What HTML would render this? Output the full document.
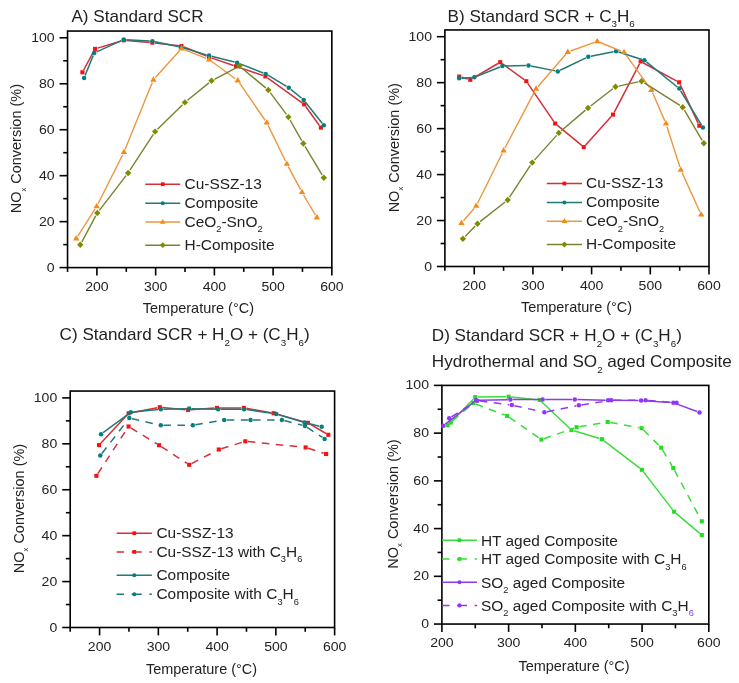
<!DOCTYPE html>
<html><head><meta charset="utf-8"><style>
html,body{margin:0;padding:0;background:#fff;}
svg{display:block;filter:blur(0.4px);}
text{font-family:"Liberation Sans", sans-serif;fill:#222;}
</style></head><body>
<svg width="739" height="683" viewBox="0 0 739 683">
<rect width="739" height="683" fill="#fff"/>
<rect x="67.55" y="31.05" width="264.30" height="236.55" fill="none" stroke="#000" stroke-width="1.6"/>
<line x1="59.55" y1="267.60" x2="67.55" y2="267.60" stroke="#000" stroke-width="1.6"/>
<line x1="59.55" y1="221.64" x2="67.55" y2="221.64" stroke="#000" stroke-width="1.6"/>
<line x1="59.55" y1="175.68" x2="67.55" y2="175.68" stroke="#000" stroke-width="1.6"/>
<line x1="59.55" y1="129.72" x2="67.55" y2="129.72" stroke="#000" stroke-width="1.6"/>
<line x1="59.55" y1="83.76" x2="67.55" y2="83.76" stroke="#000" stroke-width="1.6"/>
<line x1="59.55" y1="37.80" x2="67.55" y2="37.80" stroke="#000" stroke-width="1.6"/>
<line x1="63.25" y1="244.62" x2="67.55" y2="244.62" stroke="#000" stroke-width="1.6"/>
<line x1="63.25" y1="198.66" x2="67.55" y2="198.66" stroke="#000" stroke-width="1.6"/>
<line x1="63.25" y1="152.70" x2="67.55" y2="152.70" stroke="#000" stroke-width="1.6"/>
<line x1="63.25" y1="106.74" x2="67.55" y2="106.74" stroke="#000" stroke-width="1.6"/>
<line x1="63.25" y1="60.78" x2="67.55" y2="60.78" stroke="#000" stroke-width="1.6"/>
<line x1="96.91" y1="267.60" x2="96.91" y2="275.50" stroke="#000" stroke-width="1.6"/>
<line x1="155.65" y1="267.60" x2="155.65" y2="275.50" stroke="#000" stroke-width="1.6"/>
<line x1="214.38" y1="267.60" x2="214.38" y2="275.50" stroke="#000" stroke-width="1.6"/>
<line x1="273.11" y1="267.60" x2="273.11" y2="275.50" stroke="#000" stroke-width="1.6"/>
<line x1="331.84" y1="267.60" x2="331.84" y2="275.50" stroke="#000" stroke-width="1.6"/>
<line x1="67.55" y1="267.60" x2="67.55" y2="271.90" stroke="#000" stroke-width="1.6"/>
<line x1="126.28" y1="267.60" x2="126.28" y2="271.90" stroke="#000" stroke-width="1.6"/>
<line x1="185.01" y1="267.60" x2="185.01" y2="271.90" stroke="#000" stroke-width="1.6"/>
<line x1="243.74" y1="267.60" x2="243.74" y2="271.90" stroke="#000" stroke-width="1.6"/>
<line x1="302.47" y1="267.60" x2="302.47" y2="271.90" stroke="#000" stroke-width="1.6"/>
<text x="0" y="0" transform="translate(54.60,271.60) scale(1.05,1)" font-size="13.4" text-anchor="end" >0</text>
<text x="0" y="0" transform="translate(54.60,225.64) scale(1.05,1)" font-size="13.4" text-anchor="end" >20</text>
<text x="0" y="0" transform="translate(54.60,179.68) scale(1.05,1)" font-size="13.4" text-anchor="end" >40</text>
<text x="0" y="0" transform="translate(54.60,133.72) scale(1.05,1)" font-size="13.4" text-anchor="end" >60</text>
<text x="0" y="0" transform="translate(54.60,87.76) scale(1.05,1)" font-size="13.4" text-anchor="end" >80</text>
<text x="0" y="0" transform="translate(54.60,41.80) scale(1.05,1)" font-size="13.4" text-anchor="end" >100</text>
<text x="0" y="0" transform="translate(96.91,290.50) scale(1.05,1)" font-size="13.4" text-anchor="middle" >200</text>
<text x="0" y="0" transform="translate(155.65,290.50) scale(1.05,1)" font-size="13.4" text-anchor="middle" >300</text>
<text x="0" y="0" transform="translate(214.38,290.50) scale(1.05,1)" font-size="13.4" text-anchor="middle" >400</text>
<text x="0" y="0" transform="translate(273.11,290.50) scale(1.05,1)" font-size="13.4" text-anchor="middle" >500</text>
<text x="0" y="0" transform="translate(331.84,290.50) scale(1.05,1)" font-size="13.4" text-anchor="middle" >600</text>
<text x="0" y="0" transform="translate(198.40,313.40) scale(1.035,1)" font-size="14" text-anchor="middle" >Temperature (°C)</text>
<text transform="translate(21.3,148.65) rotate(-90) scale(1.035,1)" font-size="14" text-anchor="middle">NO<tspan font-size="0.52em" dy="4.2">x</tspan><tspan dy="-4.2"> Conversion (%)</tspan></text>
<text x="0" y="0" transform="translate(71.40,22.20) scale(1.07,1)" font-size="16" text-anchor="start" >A) Standard SCR</text>
<path d="M83.64,70.01L93.86,51.19M97.59,48.15L121.31,41.05M126.39,40.52L149.81,42.48M154.98,43.00L178.92,45.80M183.92,47.06L206.58,56.04M211.46,57.85L233.54,65.45M238.46,67.14L262.94,75.56M267.51,77.92L302.09,102.88M305.72,106.51L319.38,125.49" fill="none" stroke="#D3303A" stroke-width="1.5"/>
<rect x="80.35" y="70.25" width="4.10" height="4.10" fill="#F81010"/>
<rect x="93.05" y="46.85" width="4.10" height="4.10" fill="#F81010"/>
<rect x="121.75" y="38.25" width="4.10" height="4.10" fill="#F81010"/>
<rect x="150.35" y="40.65" width="4.10" height="4.10" fill="#F81010"/>
<rect x="179.45" y="44.05" width="4.10" height="4.10" fill="#F81010"/>
<rect x="206.95" y="54.95" width="4.10" height="4.10" fill="#F81010"/>
<rect x="233.95" y="64.25" width="4.10" height="4.10" fill="#F81010"/>
<rect x="263.35" y="74.35" width="4.10" height="4.10" fill="#F81010"/>
<rect x="302.15" y="102.35" width="4.10" height="4.10" fill="#F81010"/>
<rect x="318.85" y="125.55" width="4.10" height="4.10" fill="#F81010"/>
<path d="M85.08,75.49L93.22,55.41M96.57,51.93L121.43,40.67M126.40,39.75L149.80,41.05M154.94,41.73L177.96,46.57M182.99,47.84L206.51,54.86M211.52,56.24L234.58,62.06M239.52,63.65L263.28,72.95M267.93,75.23L286.57,86.37M290.81,89.35L301.69,98.25M305.32,101.94L322.18,123.16" fill="none" stroke="#237878" stroke-width="1.5"/>
<circle cx="84.10" cy="77.90" r="2.25" fill="#008080"/>
<circle cx="94.20" cy="53.00" r="2.25" fill="#008080"/>
<circle cx="123.80" cy="39.60" r="2.25" fill="#008080"/>
<circle cx="152.40" cy="41.20" r="2.25" fill="#008080"/>
<circle cx="180.50" cy="47.10" r="2.25" fill="#008080"/>
<circle cx="209.00" cy="55.60" r="2.25" fill="#008080"/>
<circle cx="237.10" cy="62.70" r="2.25" fill="#008080"/>
<circle cx="265.70" cy="73.90" r="2.25" fill="#008080"/>
<circle cx="288.80" cy="87.70" r="2.25" fill="#008080"/>
<circle cx="303.70" cy="99.90" r="2.25" fill="#008080"/>
<circle cx="323.80" cy="125.20" r="2.25" fill="#008080"/>
<path d="M77.81,236.07L95.09,208.93M98.05,203.72L122.65,154.78M125.13,149.32L152.27,82.58M155.41,77.57L179.49,50.83M184.29,49.71L206.21,58.39M211.42,61.27L235.38,78.73M239.50,82.97L265.10,120.23M268.12,125.40L285.58,161.20M288.31,166.55L300.59,189.55M303.52,194.79L315.38,215.01" fill="none" stroke="#EE9640" stroke-width="1.4"/>
<polygon points="76.20,235.10 79.40,240.50 73.00,240.50" fill="#F58A14"/>
<polygon points="96.70,202.90 99.90,208.30 93.50,208.30" fill="#F58A14"/>
<polygon points="124.00,148.60 127.20,154.00 120.80,154.00" fill="#F58A14"/>
<polygon points="153.40,76.30 156.60,81.70 150.20,81.70" fill="#F58A14"/>
<polygon points="181.50,45.10 184.70,50.50 178.30,50.50" fill="#F58A14"/>
<polygon points="209.00,56.00 212.20,61.40 205.80,61.40" fill="#F58A14"/>
<polygon points="237.80,77.00 241.00,82.40 234.60,82.40" fill="#F58A14"/>
<polygon points="266.80,119.20 270.00,124.60 263.60,124.60" fill="#F58A14"/>
<polygon points="286.90,160.40 290.10,165.80 283.70,165.80" fill="#F58A14"/>
<polygon points="302.00,188.70 305.20,194.10 298.80,194.10" fill="#F58A14"/>
<polygon points="316.90,214.10 320.10,219.50 313.70,219.50" fill="#F58A14"/>
<path d="M81.86,241.89L95.74,215.91M99.31,210.39L126.09,175.61M129.90,170.24L153.30,134.36M157.46,129.29L182.54,104.71M187.46,100.32L208.94,82.88M214.42,79.26L236.48,67.64M241.94,68.20L265.76,87.90M270.27,92.65L286.43,114.45M290.02,119.97L301.68,140.63M304.99,146.33L322.11,174.97" fill="none" stroke="#7A8230" stroke-width="1.4"/>
<polygon points="80.30,241.60 83.50,244.80 80.30,248.00 77.10,244.80" fill="#808C00"/>
<polygon points="97.30,209.80 100.50,213.00 97.30,216.20 94.10,213.00" fill="#808C00"/>
<polygon points="128.10,169.80 131.30,173.00 128.10,176.20 124.90,173.00" fill="#808C00"/>
<polygon points="155.10,128.40 158.30,131.60 155.10,134.80 151.90,131.60" fill="#808C00"/>
<polygon points="184.90,99.20 188.10,102.40 184.90,105.60 181.70,102.40" fill="#808C00"/>
<polygon points="211.50,77.60 214.70,80.80 211.50,84.00 208.30,80.80" fill="#808C00"/>
<polygon points="239.40,62.90 242.60,66.10 239.40,69.30 236.20,66.10" fill="#808C00"/>
<polygon points="268.30,86.80 271.50,90.00 268.30,93.20 265.10,90.00" fill="#808C00"/>
<polygon points="288.40,113.90 291.60,117.10 288.40,120.30 285.20,117.10" fill="#808C00"/>
<polygon points="303.30,140.30 306.50,143.50 303.30,146.70 300.10,143.50" fill="#808C00"/>
<polygon points="323.80,174.60 327.00,177.80 323.80,181.00 320.60,177.80" fill="#808C00"/>
<line x1="145.30" y1="184.20" x2="180.20" y2="184.20" stroke="#D3303A" stroke-width="1.5"/>
<rect x="160.88" y="182.33" width="3.74" height="3.74" fill="#F81010"/>
<text x="0" y="0" transform="translate(184.50,189.10) scale(1.03,1)" font-size="15" text-anchor="start" >Cu-SSZ-13</text>
<line x1="145.30" y1="203.20" x2="180.20" y2="203.20" stroke="#237878" stroke-width="1.5"/>
<circle cx="162.75" cy="203.20" r="2.05" fill="#008080"/>
<text x="0" y="0" transform="translate(184.50,208.10) scale(1.03,1)" font-size="15" text-anchor="start" >Composite</text>
<line x1="145.30" y1="222.10" x2="180.20" y2="222.10" stroke="#EE9640" stroke-width="1.5"/>
<polygon points="162.75,218.90 165.67,223.83 159.83,223.83" fill="#F58A14"/>
<text x="0" y="0" transform="translate(184.50,227.00) scale(1.03,1)" font-size="15" text-anchor="start" >CeO<tspan font-size="0.6em" dy="5.4">2</tspan><tspan dy="-5.4">​</tspan>-SnO<tspan font-size="0.6em" dy="5.4">2</tspan><tspan dy="-5.4">​</tspan></text>
<line x1="145.30" y1="245.20" x2="180.20" y2="245.20" stroke="#7A8230" stroke-width="1.5"/>
<polygon points="162.75,242.28 165.67,245.20 162.75,248.12 159.83,245.20" fill="#808C00"/>
<text x="0" y="0" transform="translate(184.50,250.10) scale(1.03,1)" font-size="15" text-anchor="start" >H-Composite</text>
<rect x="444.90" y="29.95" width="264.10" height="236.55" fill="none" stroke="#000" stroke-width="1.6"/>
<line x1="436.90" y1="266.50" x2="444.90" y2="266.50" stroke="#000" stroke-width="1.6"/>
<line x1="436.90" y1="220.54" x2="444.90" y2="220.54" stroke="#000" stroke-width="1.6"/>
<line x1="436.90" y1="174.58" x2="444.90" y2="174.58" stroke="#000" stroke-width="1.6"/>
<line x1="436.90" y1="128.62" x2="444.90" y2="128.62" stroke="#000" stroke-width="1.6"/>
<line x1="436.90" y1="82.66" x2="444.90" y2="82.66" stroke="#000" stroke-width="1.6"/>
<line x1="436.90" y1="36.70" x2="444.90" y2="36.70" stroke="#000" stroke-width="1.6"/>
<line x1="440.60" y1="243.52" x2="444.90" y2="243.52" stroke="#000" stroke-width="1.6"/>
<line x1="440.60" y1="197.56" x2="444.90" y2="197.56" stroke="#000" stroke-width="1.6"/>
<line x1="440.60" y1="151.60" x2="444.90" y2="151.60" stroke="#000" stroke-width="1.6"/>
<line x1="440.60" y1="105.64" x2="444.90" y2="105.64" stroke="#000" stroke-width="1.6"/>
<line x1="440.60" y1="59.68" x2="444.90" y2="59.68" stroke="#000" stroke-width="1.6"/>
<line x1="474.25" y1="266.50" x2="474.25" y2="274.40" stroke="#000" stroke-width="1.6"/>
<line x1="532.93" y1="266.50" x2="532.93" y2="274.40" stroke="#000" stroke-width="1.6"/>
<line x1="591.62" y1="266.50" x2="591.62" y2="274.40" stroke="#000" stroke-width="1.6"/>
<line x1="650.31" y1="266.50" x2="650.31" y2="274.40" stroke="#000" stroke-width="1.6"/>
<line x1="709.00" y1="266.50" x2="709.00" y2="274.40" stroke="#000" stroke-width="1.6"/>
<line x1="444.90" y1="266.50" x2="444.90" y2="270.80" stroke="#000" stroke-width="1.6"/>
<line x1="503.59" y1="266.50" x2="503.59" y2="270.80" stroke="#000" stroke-width="1.6"/>
<line x1="562.28" y1="266.50" x2="562.28" y2="270.80" stroke="#000" stroke-width="1.6"/>
<line x1="620.97" y1="266.50" x2="620.97" y2="270.80" stroke="#000" stroke-width="1.6"/>
<line x1="679.66" y1="266.50" x2="679.66" y2="270.80" stroke="#000" stroke-width="1.6"/>
<text x="0" y="0" transform="translate(432.00,270.50) scale(1.05,1)" font-size="13.4" text-anchor="end" >0</text>
<text x="0" y="0" transform="translate(432.00,224.54) scale(1.05,1)" font-size="13.4" text-anchor="end" >20</text>
<text x="0" y="0" transform="translate(432.00,178.58) scale(1.05,1)" font-size="13.4" text-anchor="end" >40</text>
<text x="0" y="0" transform="translate(432.00,132.62) scale(1.05,1)" font-size="13.4" text-anchor="end" >60</text>
<text x="0" y="0" transform="translate(432.00,86.66) scale(1.05,1)" font-size="13.4" text-anchor="end" >80</text>
<text x="0" y="0" transform="translate(432.00,40.70) scale(1.05,1)" font-size="13.4" text-anchor="end" >100</text>
<text x="0" y="0" transform="translate(474.25,289.50) scale(1.05,1)" font-size="13.4" text-anchor="middle" >200</text>
<text x="0" y="0" transform="translate(532.93,289.50) scale(1.05,1)" font-size="13.4" text-anchor="middle" >300</text>
<text x="0" y="0" transform="translate(591.62,289.50) scale(1.05,1)" font-size="13.4" text-anchor="middle" >400</text>
<text x="0" y="0" transform="translate(650.31,289.50) scale(1.05,1)" font-size="13.4" text-anchor="middle" >500</text>
<text x="0" y="0" transform="translate(709.00,289.50) scale(1.05,1)" font-size="13.4" text-anchor="middle" >600</text>
<text x="0" y="0" transform="translate(576.50,312.40) scale(1.035,1)" font-size="14" text-anchor="middle" >Temperature (°C)</text>
<text transform="translate(398.8,147.7) rotate(-90) scale(1.035,1)" font-size="14" text-anchor="middle">NO<tspan font-size="0.52em" dy="4.2">x</tspan><tspan dy="-4.2"> Conversion (%)</tspan></text>
<text x="0" y="0" transform="translate(447.60,21.70) scale(1.07,1)" font-size="16" text-anchor="start" >B) Standard SCR + C<tspan font-size="0.57em" dy="5.7">3</tspan><tspan dy="-5.7">​</tspan>H<tspan font-size="0.57em" dy="5.7">6</tspan><tspan dy="-5.7">​</tspan></text>
<path d="M461.70,77.32L467.80,79.08M472.54,78.48L497.96,63.52M502.30,63.73L524.20,79.67M527.77,83.35L553.73,121.35M557.20,125.16L581.70,145.44M585.44,145.17L611.26,116.53M614.20,112.29L639.50,63.81M642.99,62.74L676.81,81.06M680.20,84.66L698.20,123.34" fill="none" stroke="#D3303A" stroke-width="1.5"/>
<rect x="457.15" y="74.55" width="4.10" height="4.10" fill="#F81010"/>
<rect x="468.25" y="77.75" width="4.10" height="4.10" fill="#F81010"/>
<rect x="498.15" y="60.15" width="4.10" height="4.10" fill="#F81010"/>
<rect x="524.25" y="79.15" width="4.10" height="4.10" fill="#F81010"/>
<rect x="553.15" y="121.45" width="4.10" height="4.10" fill="#F81010"/>
<rect x="581.65" y="145.05" width="4.10" height="4.10" fill="#F81010"/>
<rect x="610.95" y="112.55" width="4.10" height="4.10" fill="#F81010"/>
<rect x="638.65" y="59.45" width="4.10" height="4.10" fill="#F81010"/>
<rect x="677.05" y="80.25" width="4.10" height="4.10" fill="#F81010"/>
<rect x="697.25" y="123.65" width="4.10" height="4.10" fill="#F81010"/>
<path d="M461.79,78.13L471.71,77.47M476.71,76.33L499.99,66.97M505.00,65.94L525.90,65.46M531.05,65.92L555.25,70.88M560.15,70.28L585.95,57.92M590.85,56.28L613.45,51.72M618.48,51.99L641.92,59.51M646.42,61.94L677.28,86.96M680.65,90.82L701.55,125.18" fill="none" stroke="#237878" stroke-width="1.5"/>
<circle cx="459.20" cy="78.30" r="2.25" fill="#008080"/>
<circle cx="474.30" cy="77.30" r="2.25" fill="#008080"/>
<circle cx="502.40" cy="66.00" r="2.25" fill="#008080"/>
<circle cx="528.50" cy="65.40" r="2.25" fill="#008080"/>
<circle cx="557.80" cy="71.40" r="2.25" fill="#008080"/>
<circle cx="588.30" cy="56.80" r="2.25" fill="#008080"/>
<circle cx="616.00" cy="51.20" r="2.25" fill="#008080"/>
<circle cx="644.40" cy="60.30" r="2.25" fill="#008080"/>
<circle cx="679.30" cy="88.60" r="2.25" fill="#008080"/>
<circle cx="702.90" cy="127.40" r="2.25" fill="#008080"/>
<path d="M463.46,220.73L474.24,208.17M477.53,203.21L502.27,153.19M505.00,147.85L534.70,91.45M538.06,86.53L565.84,54.27M570.62,50.99L594.48,42.41M600.08,42.52L621.22,51.08M625.76,54.63L649.64,87.57M652.60,92.75L664.80,120.85M666.91,126.46L679.89,167.04M682.04,172.63L699.96,211.97" fill="none" stroke="#EE9640" stroke-width="1.4"/>
<polygon points="461.50,219.50 464.70,224.90 458.30,224.90" fill="#F58A14"/>
<polygon points="476.20,202.40 479.40,207.80 473.00,207.80" fill="#F58A14"/>
<polygon points="503.60,147.00 506.80,152.40 500.40,152.40" fill="#F58A14"/>
<polygon points="536.10,85.30 539.30,90.70 532.90,90.70" fill="#F58A14"/>
<polygon points="567.80,48.50 571.00,53.90 564.60,53.90" fill="#F58A14"/>
<polygon points="597.30,37.90 600.50,43.30 594.10,43.30" fill="#F58A14"/>
<polygon points="624.00,48.70 627.20,54.10 620.80,54.10" fill="#F58A14"/>
<polygon points="651.40,86.50 654.60,91.90 648.20,91.90" fill="#F58A14"/>
<polygon points="666.00,120.10 669.20,125.50 662.80,125.50" fill="#F58A14"/>
<polygon points="680.80,166.40 684.00,171.80 677.60,171.80" fill="#F58A14"/>
<polygon points="701.20,211.20 704.40,216.60 698.00,216.60" fill="#F58A14"/>
<path d="M465.19,236.43L475.21,226.07M480.10,221.66L505.10,202.04M509.51,197.24L530.39,165.36M534.40,160.14L556.60,135.36M561.31,130.76L585.49,110.14M590.61,105.99L612.89,88.81M618.73,86.11L638.27,81.89M644.29,82.96L679.91,105.44M684.37,110.05L702.13,140.45" fill="none" stroke="#7A8230" stroke-width="1.4"/>
<polygon points="462.90,235.60 466.10,238.80 462.90,242.00 459.70,238.80" fill="#808C00"/>
<polygon points="477.50,220.50 480.70,223.70 477.50,226.90 474.30,223.70" fill="#808C00"/>
<polygon points="507.70,196.80 510.90,200.00 507.70,203.20 504.50,200.00" fill="#808C00"/>
<polygon points="532.20,159.40 535.40,162.60 532.20,165.80 529.00,162.60" fill="#808C00"/>
<polygon points="558.80,129.70 562.00,132.90 558.80,136.10 555.60,132.90" fill="#808C00"/>
<polygon points="588.00,104.80 591.20,108.00 588.00,111.20 584.80,108.00" fill="#808C00"/>
<polygon points="615.50,83.60 618.70,86.80 615.50,90.00 612.30,86.80" fill="#808C00"/>
<polygon points="641.50,78.00 644.70,81.20 641.50,84.40 638.30,81.20" fill="#808C00"/>
<polygon points="682.70,104.00 685.90,107.20 682.70,110.40 679.50,107.20" fill="#808C00"/>
<polygon points="703.80,140.10 707.00,143.30 703.80,146.50 700.60,143.30" fill="#808C00"/>
<line x1="546.80" y1="183.50" x2="582.00" y2="183.50" stroke="#D3303A" stroke-width="1.5"/>
<rect x="562.53" y="181.63" width="3.74" height="3.74" fill="#F81010"/>
<text x="0" y="0" transform="translate(586.00,188.40) scale(1.03,1)" font-size="15" text-anchor="start" >Cu-SSZ-13</text>
<line x1="546.80" y1="202.50" x2="582.00" y2="202.50" stroke="#237878" stroke-width="1.5"/>
<circle cx="564.40" cy="202.50" r="2.05" fill="#008080"/>
<text x="0" y="0" transform="translate(586.00,207.40) scale(1.03,1)" font-size="15" text-anchor="start" >Composite</text>
<line x1="546.80" y1="221.30" x2="582.00" y2="221.30" stroke="#EE9640" stroke-width="1.5"/>
<polygon points="564.40,218.10 567.32,223.03 561.48,223.03" fill="#F58A14"/>
<text x="0" y="0" transform="translate(586.00,226.20) scale(1.03,1)" font-size="15" text-anchor="start" >CeO<tspan font-size="0.6em" dy="5.4">2</tspan><tspan dy="-5.4">​</tspan>-SnO<tspan font-size="0.6em" dy="5.4">2</tspan><tspan dy="-5.4">​</tspan></text>
<line x1="546.80" y1="244.50" x2="582.00" y2="244.50" stroke="#7A8230" stroke-width="1.5"/>
<polygon points="564.40,241.58 567.32,244.50 564.40,247.42 561.48,244.50" fill="#808C00"/>
<text x="0" y="0" transform="translate(586.00,249.40) scale(1.03,1)" font-size="15" text-anchor="start" >H-Composite</text>
<rect x="70.20" y="391.05" width="264.40" height="236.45" fill="none" stroke="#000" stroke-width="1.6"/>
<line x1="62.20" y1="627.50" x2="70.20" y2="627.50" stroke="#000" stroke-width="1.6"/>
<line x1="62.20" y1="581.58" x2="70.20" y2="581.58" stroke="#000" stroke-width="1.6"/>
<line x1="62.20" y1="535.66" x2="70.20" y2="535.66" stroke="#000" stroke-width="1.6"/>
<line x1="62.20" y1="489.74" x2="70.20" y2="489.74" stroke="#000" stroke-width="1.6"/>
<line x1="62.20" y1="443.82" x2="70.20" y2="443.82" stroke="#000" stroke-width="1.6"/>
<line x1="62.20" y1="397.90" x2="70.20" y2="397.90" stroke="#000" stroke-width="1.6"/>
<line x1="65.90" y1="604.54" x2="70.20" y2="604.54" stroke="#000" stroke-width="1.6"/>
<line x1="65.90" y1="558.62" x2="70.20" y2="558.62" stroke="#000" stroke-width="1.6"/>
<line x1="65.90" y1="512.70" x2="70.20" y2="512.70" stroke="#000" stroke-width="1.6"/>
<line x1="65.90" y1="466.78" x2="70.20" y2="466.78" stroke="#000" stroke-width="1.6"/>
<line x1="65.90" y1="420.86" x2="70.20" y2="420.86" stroke="#000" stroke-width="1.6"/>
<line x1="99.58" y1="627.50" x2="99.58" y2="635.40" stroke="#000" stroke-width="1.6"/>
<line x1="158.34" y1="627.50" x2="158.34" y2="635.40" stroke="#000" stroke-width="1.6"/>
<line x1="217.10" y1="627.50" x2="217.10" y2="635.40" stroke="#000" stroke-width="1.6"/>
<line x1="275.86" y1="627.50" x2="275.86" y2="635.40" stroke="#000" stroke-width="1.6"/>
<line x1="334.62" y1="627.50" x2="334.62" y2="635.40" stroke="#000" stroke-width="1.6"/>
<line x1="70.20" y1="627.50" x2="70.20" y2="631.80" stroke="#000" stroke-width="1.6"/>
<line x1="128.96" y1="627.50" x2="128.96" y2="631.80" stroke="#000" stroke-width="1.6"/>
<line x1="187.72" y1="627.50" x2="187.72" y2="631.80" stroke="#000" stroke-width="1.6"/>
<line x1="246.48" y1="627.50" x2="246.48" y2="631.80" stroke="#000" stroke-width="1.6"/>
<line x1="305.24" y1="627.50" x2="305.24" y2="631.80" stroke="#000" stroke-width="1.6"/>
<text x="0" y="0" transform="translate(57.20,631.50) scale(1.05,1)" font-size="13.4" text-anchor="end" >0</text>
<text x="0" y="0" transform="translate(57.20,585.58) scale(1.05,1)" font-size="13.4" text-anchor="end" >20</text>
<text x="0" y="0" transform="translate(57.20,539.66) scale(1.05,1)" font-size="13.4" text-anchor="end" >40</text>
<text x="0" y="0" transform="translate(57.20,493.74) scale(1.05,1)" font-size="13.4" text-anchor="end" >60</text>
<text x="0" y="0" transform="translate(57.20,447.82) scale(1.05,1)" font-size="13.4" text-anchor="end" >80</text>
<text x="0" y="0" transform="translate(57.20,401.90) scale(1.05,1)" font-size="13.4" text-anchor="end" >100</text>
<text x="0" y="0" transform="translate(99.58,650.50) scale(1.05,1)" font-size="13.4" text-anchor="middle" >200</text>
<text x="0" y="0" transform="translate(158.34,650.50) scale(1.05,1)" font-size="13.4" text-anchor="middle" >300</text>
<text x="0" y="0" transform="translate(217.10,650.50) scale(1.05,1)" font-size="13.4" text-anchor="middle" >400</text>
<text x="0" y="0" transform="translate(275.86,650.50) scale(1.05,1)" font-size="13.4" text-anchor="middle" >500</text>
<text x="0" y="0" transform="translate(334.62,650.50) scale(1.05,1)" font-size="13.4" text-anchor="middle" >600</text>
<text x="0" y="0" transform="translate(201.50,673.60) scale(1.035,1)" font-size="14" text-anchor="middle" >Temperature (°C)</text>
<text transform="translate(24.1,508.5) rotate(-90) scale(1.035,1)" font-size="14" text-anchor="middle">NO<tspan font-size="0.52em" dy="4.2">x</tspan><tspan dy="-4.2"> Conversion (%)</tspan></text>
<text x="0" y="0" transform="translate(59.60,340.20) scale(1.07,1)" font-size="16" text-anchor="start" >C) Standard SCR + H<tspan font-size="0.57em" dy="5.7">2</tspan><tspan dy="-5.7">​</tspan>O + (C<tspan font-size="0.57em" dy="5.7">3</tspan><tspan dy="-5.7">​</tspan>H<tspan font-size="0.57em" dy="5.7">6</tspan><tspan dy="-5.7">​</tspan>)</text>
<path d="M100.77,443.20L126.83,415.20M131.15,412.80L157.25,407.70M162.39,407.45L185.51,409.65M190.69,409.72L214.31,408.08M219.50,407.90L241.20,407.90M246.36,408.36L271.04,412.74M276.10,413.90L305.30,422.10M310.04,424.11L326.06,433.49" fill="none" stroke="#D3303A" stroke-width="1.5"/>
<rect x="96.95" y="443.05" width="4.10" height="4.10" fill="#F81010"/>
<rect x="126.55" y="411.25" width="4.10" height="4.10" fill="#F81010"/>
<rect x="157.75" y="405.15" width="4.10" height="4.10" fill="#F81010"/>
<rect x="186.05" y="407.85" width="4.10" height="4.10" fill="#F81010"/>
<rect x="214.85" y="405.85" width="4.10" height="4.10" fill="#F81010"/>
<rect x="241.75" y="405.85" width="4.10" height="4.10" fill="#F81010"/>
<rect x="271.55" y="411.15" width="4.10" height="4.10" fill="#F81010"/>
<rect x="305.75" y="420.75" width="4.10" height="4.10" fill="#F81010"/>
<rect x="326.25" y="432.75" width="4.10" height="4.10" fill="#F81010"/>
<path d="M97.82,473.62L127.18,428.68M130.82,427.86L156.88,443.84M161.28,446.62L187.02,463.38M191.51,463.61L216.49,450.69M221.28,448.73L242.82,442.07M247.89,441.56L303.01,447.14M308.07,448.20L323.63,453.20" fill="none" stroke="#D3303A" stroke-width="1.5" stroke-dasharray="7.5 6.5"/>
<rect x="94.35" y="473.75" width="4.10" height="4.10" fill="#F81010"/>
<rect x="126.55" y="424.45" width="4.10" height="4.10" fill="#F81010"/>
<rect x="157.05" y="443.15" width="4.10" height="4.10" fill="#F81010"/>
<rect x="187.15" y="462.75" width="4.10" height="4.10" fill="#F81010"/>
<rect x="216.75" y="447.45" width="4.10" height="4.10" fill="#F81010"/>
<rect x="243.25" y="439.25" width="4.10" height="4.10" fill="#F81010"/>
<rect x="303.55" y="445.35" width="4.10" height="4.10" fill="#F81010"/>
<rect x="324.05" y="451.95" width="4.10" height="4.10" fill="#F81010"/>
<path d="M103.10,432.66L128.70,413.84M133.39,412.03L158.21,409.47M163.40,409.15L186.60,408.65M191.80,408.65L215.50,409.15M220.70,409.20L241.50,409.20M246.67,409.58L273.73,413.62M278.79,414.74L302.01,421.66M307.02,423.04L319.18,426.16" fill="none" stroke="#237878" stroke-width="1.5"/>
<circle cx="101.00" cy="434.20" r="2.25" fill="#008080"/>
<circle cx="130.80" cy="412.30" r="2.25" fill="#008080"/>
<circle cx="160.80" cy="409.20" r="2.25" fill="#008080"/>
<circle cx="189.20" cy="408.60" r="2.25" fill="#008080"/>
<circle cx="218.10" cy="409.20" r="2.25" fill="#008080"/>
<circle cx="244.10" cy="409.20" r="2.25" fill="#008080"/>
<circle cx="276.30" cy="414.00" r="2.25" fill="#008080"/>
<circle cx="304.50" cy="422.40" r="2.25" fill="#008080"/>
<circle cx="321.70" cy="426.80" r="2.25" fill="#008080"/>
<path d="M101.89,453.45L127.71,420.15M131.83,418.68L158.27,424.72M163.40,425.30L190.20,425.30M195.36,424.86L221.64,420.34M226.80,419.90L247.90,419.90M253.10,419.90L279.30,419.90M284.41,420.56L302.49,425.34M307.17,427.43L322.43,437.47" fill="none" stroke="#237878" stroke-width="1.5" stroke-dasharray="7.5 6.5"/>
<circle cx="100.30" cy="455.50" r="2.25" fill="#008080"/>
<circle cx="129.30" cy="418.10" r="2.25" fill="#008080"/>
<circle cx="160.80" cy="425.30" r="2.25" fill="#008080"/>
<circle cx="192.80" cy="425.30" r="2.25" fill="#008080"/>
<circle cx="224.20" cy="419.90" r="2.25" fill="#008080"/>
<circle cx="250.50" cy="419.90" r="2.25" fill="#008080"/>
<circle cx="281.90" cy="419.90" r="2.25" fill="#008080"/>
<circle cx="305.00" cy="426.00" r="2.25" fill="#008080"/>
<circle cx="324.60" cy="438.90" r="2.25" fill="#008080"/>
<line x1="116.60" y1="533.20" x2="151.90" y2="533.20" stroke="#D3303A" stroke-width="1.5"/>
<rect x="132.38" y="531.33" width="3.74" height="3.74" fill="#F81010"/>
<text x="0" y="0" transform="translate(156.40,538.10) scale(1.03,1)" font-size="15" text-anchor="start" >Cu-SSZ-13</text>
<line x1="116.6" y1="551.9" x2="134.25" y2="551.9" stroke="#D3303A" stroke-width="1.5" stroke-dasharray="7.5 7.6"/>
<line x1="134.25" y1="551.9" x2="151.9" y2="551.9" stroke="#D3303A" stroke-width="1.5" stroke-dasharray="7.5 7.6"/>
<rect x="132.38" y="550.03" width="3.74" height="3.74" fill="#F81010"/>
<text x="0" y="0" transform="translate(156.40,556.80) scale(1.03,1)" font-size="15" text-anchor="start" >Cu-SSZ-13 with C<tspan font-size="0.6em" dy="5.4">3</tspan><tspan dy="-5.4">​</tspan>H<tspan font-size="0.6em" dy="5.4">6</tspan><tspan dy="-5.4">​</tspan></text>
<line x1="116.60" y1="575.30" x2="151.90" y2="575.30" stroke="#237878" stroke-width="1.5"/>
<circle cx="134.25" cy="575.30" r="2.05" fill="#008080"/>
<text x="0" y="0" transform="translate(156.40,580.20) scale(1.03,1)" font-size="15" text-anchor="start" >Composite</text>
<line x1="116.6" y1="594.2" x2="134.25" y2="594.2" stroke="#237878" stroke-width="1.5" stroke-dasharray="7.5 7.6"/>
<line x1="134.25" y1="594.2" x2="151.9" y2="594.2" stroke="#237878" stroke-width="1.5" stroke-dasharray="7.5 7.6"/>
<circle cx="134.25" cy="594.20" r="2.05" fill="#008080"/>
<text x="0" y="0" transform="translate(156.40,599.10) scale(1.03,1)" font-size="15" text-anchor="start" >Composite with C<tspan font-size="0.6em" dy="5.4">3</tspan><tspan dy="-5.4">​</tspan>H<tspan font-size="0.6em" dy="5.4">6</tspan><tspan dy="-5.4">​</tspan></text>
<rect x="441.90" y="385.40" width="266.90" height="238.65" fill="none" stroke="#000" stroke-width="1.6"/>
<line x1="433.90" y1="624.05" x2="441.90" y2="624.05" stroke="#000" stroke-width="1.6"/>
<line x1="433.90" y1="576.32" x2="441.90" y2="576.32" stroke="#000" stroke-width="1.6"/>
<line x1="433.90" y1="528.59" x2="441.90" y2="528.59" stroke="#000" stroke-width="1.6"/>
<line x1="433.90" y1="480.86" x2="441.90" y2="480.86" stroke="#000" stroke-width="1.6"/>
<line x1="433.90" y1="433.13" x2="441.90" y2="433.13" stroke="#000" stroke-width="1.6"/>
<line x1="433.90" y1="385.40" x2="441.90" y2="385.40" stroke="#000" stroke-width="1.6"/>
<line x1="437.60" y1="600.18" x2="441.90" y2="600.18" stroke="#000" stroke-width="1.6"/>
<line x1="437.60" y1="552.45" x2="441.90" y2="552.45" stroke="#000" stroke-width="1.6"/>
<line x1="437.60" y1="504.72" x2="441.90" y2="504.72" stroke="#000" stroke-width="1.6"/>
<line x1="437.60" y1="457.00" x2="441.90" y2="457.00" stroke="#000" stroke-width="1.6"/>
<line x1="437.60" y1="409.26" x2="441.90" y2="409.26" stroke="#000" stroke-width="1.6"/>
<line x1="441.90" y1="624.05" x2="441.90" y2="631.95" stroke="#000" stroke-width="1.6"/>
<line x1="508.62" y1="624.05" x2="508.62" y2="631.95" stroke="#000" stroke-width="1.6"/>
<line x1="575.35" y1="624.05" x2="575.35" y2="631.95" stroke="#000" stroke-width="1.6"/>
<line x1="642.08" y1="624.05" x2="642.08" y2="631.95" stroke="#000" stroke-width="1.6"/>
<line x1="708.80" y1="624.05" x2="708.80" y2="631.95" stroke="#000" stroke-width="1.6"/>
<line x1="475.26" y1="624.05" x2="475.26" y2="628.35" stroke="#000" stroke-width="1.6"/>
<line x1="541.99" y1="624.05" x2="541.99" y2="628.35" stroke="#000" stroke-width="1.6"/>
<line x1="608.71" y1="624.05" x2="608.71" y2="628.35" stroke="#000" stroke-width="1.6"/>
<line x1="675.44" y1="624.05" x2="675.44" y2="628.35" stroke="#000" stroke-width="1.6"/>
<text x="0" y="0" transform="translate(429.00,628.05) scale(1.05,1)" font-size="13.4" text-anchor="end" >0</text>
<text x="0" y="0" transform="translate(429.00,580.32) scale(1.05,1)" font-size="13.4" text-anchor="end" >20</text>
<text x="0" y="0" transform="translate(429.00,532.59) scale(1.05,1)" font-size="13.4" text-anchor="end" >40</text>
<text x="0" y="0" transform="translate(429.00,484.86) scale(1.05,1)" font-size="13.4" text-anchor="end" >60</text>
<text x="0" y="0" transform="translate(429.00,437.13) scale(1.05,1)" font-size="13.4" text-anchor="end" >80</text>
<text x="0" y="0" transform="translate(429.00,389.40) scale(1.05,1)" font-size="13.4" text-anchor="end" >100</text>
<text x="0" y="0" transform="translate(441.90,647.00) scale(1.05,1)" font-size="13.4" text-anchor="middle" >200</text>
<text x="0" y="0" transform="translate(508.62,647.00) scale(1.05,1)" font-size="13.4" text-anchor="middle" >300</text>
<text x="0" y="0" transform="translate(575.35,647.00) scale(1.05,1)" font-size="13.4" text-anchor="middle" >400</text>
<text x="0" y="0" transform="translate(642.08,647.00) scale(1.05,1)" font-size="13.4" text-anchor="middle" >500</text>
<text x="0" y="0" transform="translate(708.80,647.00) scale(1.05,1)" font-size="13.4" text-anchor="middle" >600</text>
<text x="0" y="0" transform="translate(574.00,671.00) scale(1.035,1)" font-size="14" text-anchor="middle" >Temperature (°C)</text>
<text transform="translate(398.0,504.0) rotate(-90) scale(1.035,1)" font-size="14" text-anchor="middle">NO<tspan font-size="0.52em" dy="4.2">x</tspan><tspan dy="-4.2"> Conversion (%)</tspan></text>
<text x="0" y="0" transform="translate(431.80,341.10) scale(1.07,1)" font-size="16" text-anchor="start" >D) Standard SCR + H<tspan font-size="0.57em" dy="5.7">2</tspan><tspan dy="-5.7">​</tspan>O + (C<tspan font-size="0.57em" dy="5.7">3</tspan><tspan dy="-5.7">​</tspan>H<tspan font-size="0.57em" dy="5.7">6</tspan><tspan dy="-5.7">​</tspan>)</text>
<text x="0" y="0" transform="translate(431.80,367.20) scale(1.07,1)" font-size="16" text-anchor="start" >Hydrothermal and SO<tspan font-size="0.57em" dy="5.7">2</tspan><tspan dy="-5.7">​</tspan> aged Composite</text>
<path d="M449.52,423.44L473.48,398.96M477.90,397.07L506.00,396.73M511.19,396.97L537.11,399.73M541.59,401.79L569.61,428.31M573.99,430.84L599.51,438.46M604.06,440.78L639.84,468.22M643.48,471.86L672.52,509.64M676.09,513.37L699.81,533.33" fill="none" stroke="#3CDC3C" stroke-width="1.5"/>
<rect x="445.65" y="423.25" width="4.10" height="4.10" fill="#22DD22"/>
<rect x="473.25" y="395.05" width="4.10" height="4.10" fill="#22DD22"/>
<rect x="506.55" y="394.65" width="4.10" height="4.10" fill="#22DD22"/>
<rect x="537.65" y="397.95" width="4.10" height="4.10" fill="#22DD22"/>
<rect x="569.45" y="428.05" width="4.10" height="4.10" fill="#22DD22"/>
<rect x="599.95" y="437.15" width="4.10" height="4.10" fill="#22DD22"/>
<rect x="639.85" y="467.75" width="4.10" height="4.10" fill="#22DD22"/>
<rect x="672.05" y="509.65" width="4.10" height="4.10" fill="#22DD22"/>
<rect x="699.75" y="532.95" width="4.10" height="4.10" fill="#22DD22"/>
<path d="M452.67,420.91L471.43,404.79M475.83,404.03L504.77,415.07M509.34,417.48L539.26,438.12M543.85,438.74L574.15,428.06M579.16,426.77L605.14,422.43M610.26,422.47L639.04,427.73M643.44,430.03L659.36,445.87M662.53,449.93L671.97,465.77M674.53,470.29L700.57,519.01" fill="none" stroke="#3CDC3C" stroke-width="1.5" stroke-dasharray="7.5 6.5"/>
<rect x="448.65" y="420.55" width="4.10" height="4.10" fill="#22DD22"/>
<rect x="471.35" y="401.05" width="4.10" height="4.10" fill="#22DD22"/>
<rect x="505.15" y="413.95" width="4.10" height="4.10" fill="#22DD22"/>
<rect x="539.35" y="437.55" width="4.10" height="4.10" fill="#22DD22"/>
<rect x="574.55" y="425.15" width="4.10" height="4.10" fill="#22DD22"/>
<rect x="605.65" y="419.95" width="4.10" height="4.10" fill="#22DD22"/>
<rect x="639.55" y="426.15" width="4.10" height="4.10" fill="#22DD22"/>
<rect x="659.15" y="445.65" width="4.10" height="4.10" fill="#22DD22"/>
<rect x="671.25" y="465.95" width="4.10" height="4.10" fill="#22DD22"/>
<rect x="699.75" y="519.25" width="4.10" height="4.10" fill="#22DD22"/>
<path d="M445.35,424.10L474.05,401.80M478.70,400.15L507.80,399.65M513.00,399.60L540.00,399.60M545.20,399.58L572.20,399.42M577.40,399.47L605.50,400.23M610.70,400.32L638.50,400.58M643.69,400.77L670.71,402.53M675.74,403.60L697.06,411.50" fill="none" stroke="#8C3CE6" stroke-width="1.5"/>
<circle cx="443.30" cy="425.70" r="2.25" fill="#9632FF"/>
<circle cx="476.10" cy="400.20" r="2.25" fill="#9632FF"/>
<circle cx="510.40" cy="399.60" r="2.25" fill="#9632FF"/>
<circle cx="542.60" cy="399.60" r="2.25" fill="#9632FF"/>
<circle cx="574.80" cy="399.40" r="2.25" fill="#9632FF"/>
<circle cx="608.10" cy="400.30" r="2.25" fill="#9632FF"/>
<circle cx="641.10" cy="400.60" r="2.25" fill="#9632FF"/>
<circle cx="673.30" cy="402.70" r="2.25" fill="#9632FF"/>
<circle cx="699.50" cy="412.40" r="2.25" fill="#9632FF"/>
<path d="M451.41,416.83L475.09,402.17M479.88,401.12L509.22,404.78M514.34,405.65L541.86,411.65M546.95,411.69L576.35,405.81M581.47,404.90L608.73,400.70M613.90,400.30L643.00,400.30M648.19,400.50L673.91,402.50" fill="none" stroke="#8C3CE6" stroke-width="1.5" stroke-dasharray="7.5 6.5"/>
<circle cx="449.20" cy="418.20" r="2.25" fill="#9632FF"/>
<circle cx="477.30" cy="400.80" r="2.25" fill="#9632FF"/>
<circle cx="511.80" cy="405.10" r="2.25" fill="#9632FF"/>
<circle cx="544.40" cy="412.20" r="2.25" fill="#9632FF"/>
<circle cx="578.90" cy="405.30" r="2.25" fill="#9632FF"/>
<circle cx="611.30" cy="400.30" r="2.25" fill="#9632FF"/>
<circle cx="645.60" cy="400.30" r="2.25" fill="#9632FF"/>
<circle cx="676.50" cy="402.70" r="2.25" fill="#9632FF"/>
<line x1="442.00" y1="540.20" x2="477.00" y2="540.20" stroke="#3CDC3C" stroke-width="1.5"/>
<rect x="457.63" y="538.33" width="3.74" height="3.74" fill="#22DD22"/>
<text x="0" y="0" transform="translate(480.90,545.60) scale(1.03,1)" font-size="15" text-anchor="start" >HT aged Composite</text>
<line x1="442.0" y1="559.0" x2="459.5" y2="559.0" stroke="#3CDC3C" stroke-width="1.5" stroke-dasharray="7.5 7.6"/>
<line x1="459.5" y1="559.0" x2="477.0" y2="559.0" stroke="#3CDC3C" stroke-width="1.5" stroke-dasharray="7.5 7.6"/>
<rect x="457.63" y="557.13" width="3.74" height="3.74" fill="#22DD22"/>
<text x="0" y="0" transform="translate(480.90,564.40) scale(1.03,1)" font-size="15" text-anchor="start" >HT aged Composite with C<tspan font-size="0.6em" dy="5.4">3</tspan><tspan dy="-5.4">​</tspan>H<tspan font-size="0.6em" dy="5.4">6</tspan><tspan dy="-5.4">​</tspan></text>
<line x1="442.00" y1="582.30" x2="477.00" y2="582.30" stroke="#8C3CE6" stroke-width="1.5"/>
<circle cx="459.50" cy="582.30" r="2.05" fill="#9632FF"/>
<text x="0" y="0" transform="translate(480.90,587.70) scale(1.03,1)" font-size="15" text-anchor="start" >SO<tspan font-size="0.6em" dy="5.4">2</tspan><tspan dy="-5.4">​</tspan> aged Composite</text>
<line x1="442.0" y1="605.4" x2="459.5" y2="605.4" stroke="#8C3CE6" stroke-width="1.5" stroke-dasharray="7.5 7.6"/>
<line x1="459.5" y1="605.4" x2="477.0" y2="605.4" stroke="#8C3CE6" stroke-width="1.5" stroke-dasharray="7.5 7.6"/>
<circle cx="459.50" cy="605.40" r="2.05" fill="#9632FF"/>
<text x="0" y="0" transform="translate(480.90,610.80) scale(1.03,1)" font-size="15" text-anchor="start" >SO<tspan font-size="0.6em" dy="5.4">2</tspan><tspan dy="-5.4">​</tspan> aged Composite with C<tspan font-size="0.6em" dy="5.4">3</tspan><tspan dy="-5.4">​</tspan>H<tspan font-size="0.6em" dy="5.4" fill="#8C3CE6">6</tspan><tspan dy="-5.4">​</tspan></text>
</svg></body></html>
